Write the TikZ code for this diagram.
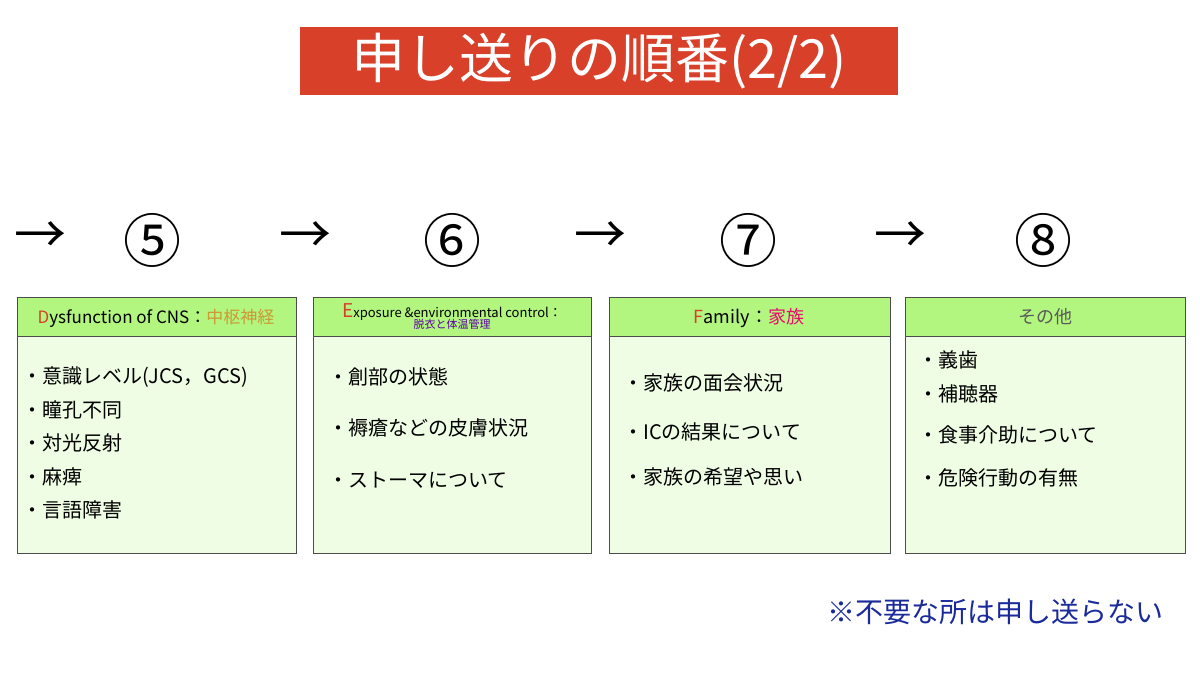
\documentclass[tikz,border=0pt]{standalone}
\usepackage{fontspec}
\setmainfont{Noto Sans CJK JP}
\begin{document}
\begin{tikzpicture}[x=1pt,y=-1pt,
  item/.style={anchor=west,font=\fontsize{20}{22}\selectfont,inner sep=0pt},
  num/.style={font=\fontsize{58}{60}\selectfont},
  arr/.style={font=\fontsize{52}{54}\selectfont}]
\definecolor{hd}{HTML}{B2F57F}
\definecolor{bd}{HTML}{EEFDE3}
\definecolor{tr}{HTML}{D8402A}
\definecolor{nv}{HTML}{1A2A9A}
\useasboundingbox (0,0) rectangle (1200,675);
\node[fill=tr,minimum width=598pt,minimum height=68pt,inner sep=0pt,text=white,font=\fontsize{54}{56}\selectfont] (title) at (599,61) {申し送りの順番(2/2)};
\foreach \n/\x/\a in {5/152/40,6/452/305,7/748/600,8/1043/900}{
  \node[arr] (a\n) at (\a,238) {→};
  \node[num] (n\n) at (\x,240) {\ifcase\n\or\or\or\or\or ⑤\or ⑥\or ⑦\or ⑧\fi};
}
\foreach \i/\l/\r in {1/17/296,2/313/591,3/609/890,4/905/1185}{
  \fill[bd] (\l,297) rectangle (\r,553);
  \draw[black!70,line width=0.8pt] (\l,297) rectangle (\r,553);
  \draw[black!70,line width=0.8pt,fill=hd] (\l,297) rectangle (\r,336);
}
\node[font=\fontsize{17}{18}\selectfont] (h1) at (156,318) {\textcolor{tr}{D}ysfunction of CNS：\textcolor{brown!80!yellow}{中枢神経}};
\node[font=\fontsize{13}{14}\selectfont,align=center] (h2) at (452,316) {\textcolor{tr}{\fontsize{19}{19}\selectfont E}xposure \&environmental control：\\[-3pt]\textcolor{violet!70!blue}{\fontsize{11}{12}\selectfont 脱衣と体温管理}};
\node[font=\fontsize{18}{19}\selectfont] (h3) at (749,318) {\textcolor{tr}{F}amily：\textcolor{magenta!70!red}{家族}};
\node[font=\fontsize{18}{19}\selectfont,text=black!65] (h4) at (1045,317) {その他};
\node[item] (b11) at (22,377) {・意識レベル(JCS，GCS)};
\node[item] (b12) at (22,410) {・瞳孔不同};
\node[item] (b13) at (22,443) {・対光反射};
\node[item] (b14) at (22,477) {・麻痺};
\node[item] (b15) at (22,510) {・言語障害};
\node[item] (b21) at (328,377) {・創部の状態};
\node[item] (b22) at (328,428) {・褥瘡などの皮膚状況};
\node[item] (b23) at (328,480) {・ストーマについて};
\node[item] (b31) at (623,383) {・家族の面会状況};
\node[item] (b32) at (623,432) {・ICの結果について};
\node[item] (b33) at (623,477) {・家族の希望や思い};
\node[item] (b41) at (918,360) {・義歯};
\node[item] (b42) at (918,394) {・補聴器};
\node[item] (b43) at (918,435) {・食事介助について};
\node[item] (b44) at (918,478) {・危険行動の有無};
\node[text=nv,font=\fontsize{28}{30}\selectfont] (note) at (995,612) {※不要な所は申し送らない};
\end{tikzpicture}
\end{document}
